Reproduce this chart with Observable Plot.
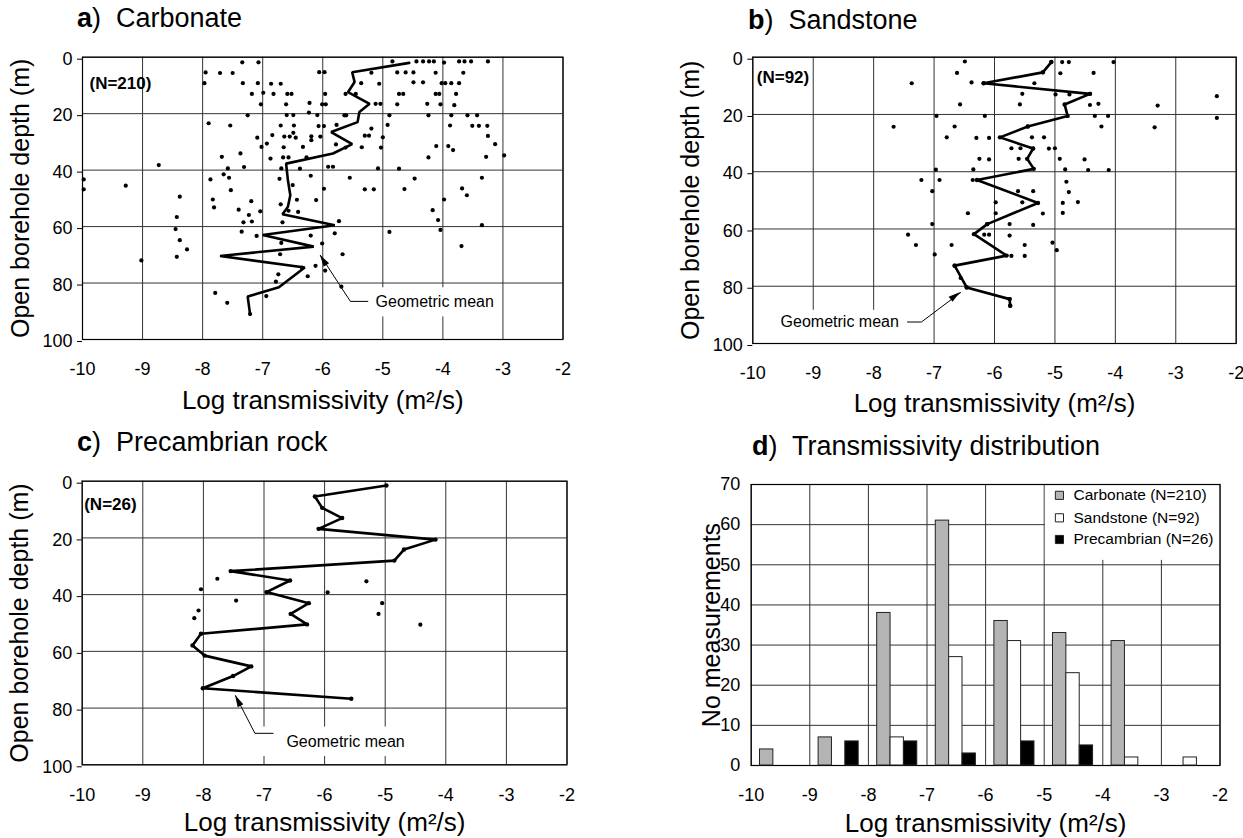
<!DOCTYPE html>
<html><head><meta charset="utf-8">
<script src="https://cdn.jsdelivr.net/npm/d3@7"></script>
<script src="https://cdn.jsdelivr.net/npm/@observablehq/plot@0.6"></script>
<style>
body{margin:0;background:#fff;font-family:"Liberation Sans",Arial,Helvetica,sans-serif;}
#page{position:relative;width:1243px;height:838px;overflow:hidden;background:#fff;}
.panel{position:absolute;}
.panel svg{max-width:none;display:block;}
.title{position:absolute;font-size:27px;line-height:27px;color:#000;white-space:pre;}
</style></head><body><div id="page"></div>
<script>
// ---------- data ----------
const xTicks = [-10, -9, -8, -7, -6, -5, -4, -3, -2];
const depthTicks = [0, 20, 40, 60, 80, 100];
const countTicks = [0, 10, 20, 30, 40, 50, 60, 70];
const xLabel = "Log transmissivity (m\u00B2/s)";
const depthLabel = "Open borehole depth (m)";
const countLabel = "No measurements";
const meanLabel = "Geometric mean";

// [log transmissivity, depth]
const carbonatePoints = [
[-7.34,1.8],[-7.07,1.8],[-7.95,5.4],[-7.71,5.6],[-7.50,5.6],[-6.06,5.3],[-5.97,5.3],
[-7.97,9.2],[-7.33,9.2],[-7.08,9.2],[-6.86,9.4],[-6.70,9.4],
[-7.18,13],[-6.99,12.6],[-6.82,13],[-6.59,13],[-6.52,13],[-5.96,13],[-5.62,13],
[-7.03,16.7],[-6.61,16.7],[-6.22,16.2],[-6.01,16.7],[-5.95,16.7],
[-5.36,9.2],[-5.19,5.5],[-5.45,13],[-5.12,16.5],
[-7.90,23.4],[-7.54,24.2],[-7.25,20.6],[-6.60,20.5],[-6.49,20.5],[-6.23,19.6],[-6.09,20.5],[-5.64,20.6],
[-6.70,24.2],[-6.48,24.2],[-6.07,24.4],[-5.98,24.4],[-5.77,24],
[-7.09,28.5],[-6.84,27.6],[-6.64,28.1],[-6.55,28.1],[-6.49,26.8],[-6.45,28.5],[-6.19,28],[-6.19,29.4],[-6.04,28.1],
[-5.19,25.3],[-5.30,27.8],[-5.23,27.8],
[-7.02,31.8],[-6.93,30.6],[-6.65,31.9],[-6.33,31.8],[-5.78,30.9],[-5.62,32],[-5.35,31.9],
[-7.68,35.3],[-7.37,34.1],[-6.87,35.9],[-6.66,35.5],[-6.57,35.5],[-6.27,35.5],
[-8.73,38.2],[-7.58,39.4],[-7.31,38.9],[-6.69,39.4],[-6.38,39.5],[-5.91,38.8],[-5.83,38.8],[-5.08,39.4],
[-9.98,43.3],[-9.98,46.8],[-9.28,45.5],[-7.87,43.3],[-7.65,41.5],[-7.56,42.7],[-7.53,47.1],[-6.72,43.1],[-6.50,45.3],[-6.20,42],[-5.98,46.6],[-5.55,42.7],[-5.30,46.8],[-5.15,46.8],
[-8.38,49.4],[-7.83,50.4],[-7.81,53.2],[-7.19,51],[-7.40,54],[-7.23,55.9],[-7.04,54.6],[-7.32,58.5],[-7.18,58.2],[-6.70,52.1],[-6.43,50.5],[-6.11,50.6],[-6.57,54.4],[-6.41,54.8],[-6.67,58.5],
[-8.43,56.6],[-8.45,60.9],[-8.38,64.8],[-8.26,68.1],[-8.43,70.7],[-9.02,72],
[-7.35,61.8],[-7.10,63.3],[-6.69,65.8],[-6.20,63.2],[-6.01,66],[-5.80,62.4],[-5.73,58.1],[-5.67,69.8],[-6.71,69.8],
[-6.35,74.5],[-6.25,77.6],[-6.12,73.9],[-5.96,75.6],[-6.74,76.9],[-6.78,79.5],[-6.94,84.6],[-7.79,83.5],[-7.59,87],[-7.21,91],[-5.69,81.3],
[-4.84,1.5],[-4.44,1.5],[-4.33,1.5],[-4.23,1.5],[-4.15,1.5],[-3.98,1.9],[-3.73,1.5],[-3.64,1.5],[-3.53,1.5],[-3.25,1.5],
[-4.76,5.4],[-4.62,5.4],[-4.49,5.4],[-4.12,5.5],[-3.66,5.5],
[-5.06,9.4],[-4.49,8.9],[-4.33,8.9],[-4.02,9.2],[-3.96,9.2],[-3.86,9.2],[-3.73,9.2],
[-4.73,13],[-4.66,13],[-4.12,13],[-4.06,13],[-3.78,13],
[-5.04,16.5],[-4.76,16.7],[-4.26,16.5],[-4.04,16.7],[-3.81,17],
[-5.61,20.6],[-4.89,20.6],[-4.24,20.6],[-3.86,20.6],[-3.59,20.6],[-3.43,20.6],
[-4.92,24],[-3.88,24.2],[-3.51,24.3],[-3.40,24.3],[-3.26,24.3],
[-5.00,28.4],[-3.25,27.9],
[-5.03,32],[-4.11,31.5],[-3.91,31.5],[-3.83,32.9],[-3.13,30.8],
[-4.24,35.5],[-3.28,35.3],[-2.98,34.8],
[-4.73,39.5],[-4.47,43],[-3.35,42.7],
[-4.64,46.7],[-3.68,46.5],[-3.60,48.9],
[-3.98,50.4],[-4.17,54.2],[-4.08,57.7],[-4.04,61.2],[-3.35,59.5],
[-4.89,61.9],[-3.69,66.9]
];
const carbonateMean = [
[-4.56,2],[-5.51,5.3],[-5.47,8.8],[-5.58,12.4],[-5.22,16.5],[-5.39,19.4],[-5.42,23],[-5.86,26.5],
[-5.51,30.8],[-5.83,34.1],[-6.61,37.7],[-6.58,43.6],[-6.54,48.9],[-6.58,53],[-6.67,55.6],[-5.80,59.5],
[-7.00,63],[-6.15,67.1],[-7.71,70.4],[-6.30,74.5],[-6.73,81.5],[-7.25,84.8],[-7.21,91]
];

const sandstonePoints = [
[-7.37,9.1],[-7.67,24.3],[-6.96,20.5],[-6.97,39.3],[-7.21,42.9],[-6.91,42.9],[-7.03,46.8],[-7.03,58.3],[-7.43,62],[-7.30,65.6],[-6.99,68.9],
[-6.49,1.5],[-5.06,1.7],[-4.88,1.7],[-4.77,1.7],[-4.03,1.7],
[-6.62,5.5],[-5.20,5.3],[-4.91,5.6],[-4.36,5.5],
[-6.38,8.8],[-6.18,9.1],[-5.34,9.1],
[-5.54,12.8],[-4.99,13],[-4.76,13],[-4.42,12.8],
[-6.57,16.5],[-5.58,16.5],[-4.42,16.7],[-4.28,16.3],[-3.30,16.9],
[-6.16,20.5],[-4.34,20.5],[-4.12,20.5],
[-6.66,24.2],[-5.45,24.2],[-4.23,24.2],[-3.35,24.5],
[-6.79,28],[-6.30,28.2],[-6.09,28.2],[-5.38,28],[-5.18,28],
[-5.72,31.8],[-5.57,31.8],[-5.37,31.9],[-5.10,31.9],[-5.00,31.8],
[-6.25,35.5],[-6.09,35.7],[-5.60,35.5],[-4.92,35.5],[-4.51,35.7],
[-6.35,39.2],[-4.83,39.2],[-4.45,39.4],[-4.11,39.4],
[-6.36,42.9],[-4.81,43.5],
[-5.61,46.8],[-5.36,46.8],[-4.77,47.1],
[-5.98,50.7],[-5.54,50.7],[-4.62,50.6],[-4.87,50.9],
[-6.44,54.5],[-5.98,54.5],[-5.20,54.6],[-4.87,54.4],
[-6.12,58.3],[-5.75,58.3],[-5.36,58.6],
[-6.17,62],[-6.09,62],[-5.75,62.3],
[-6.71,65.6],[-5.50,65.6],[-5.04,64.8],[-4.97,67.4],
[-5.72,69.4],[-5.50,69.4],
[-6.66,72.8],[-6.56,77.1],[-6.46,80.4],[-5.75,84.5],[-5.74,86.8],
[-2.32,13.6],[-2.32,21.2]
];
const sandstoneMean = [
[-5.06,1.7],[-5.20,5.3],[-6.18,9.1],[-4.42,12.8],[-4.84,16.5],[-4.79,20.5],[-5.45,24.2],[-5.91,28],
[-5.36,31.9],[-5.46,35.5],[-5.35,39],[-6.29,42.9],[-5.28,50.9],[-6.12,58.3],[-6.34,61.8],[-5.80,69.3],
[-6.66,72.8],[-6.46,80.4],[-5.75,84.5],[-5.74,86.8]
];

const precambrianPoints = [
[-7.77,34.4],[-8.04,38.1],[-7.46,42.1],[-8.08,45.6],[-8.15,48.3],[-5.95,39.2],[-5.31,35.3],[-5.05,43],[-5.11,46.8],[-4.42,50.6]
];
const precambrianMean = [
[-4.98,1.5],[-6.16,5.4],[-6.04,9.4],[-5.71,13],[-6.10,16.8],[-4.17,20.6],[-4.69,24.1],[-4.85,28],
[-7.55,31.7],[-6.57,35],[-6.96,39.1],[-6.26,43],[-6.56,46.8],[-6.29,50.5],[-8.04,53.8],[-8.18,57.9],
[-7.98,61.5],[-7.21,65.3],[-7.51,68.7],[-8.01,73],[-5.56,76.7]
];

// histogram: bins by lower edge of log transmissivity
const bins = [-10, -9, -8, -7, -6, -5, -4, -3];
const seriesNames = ["Carbonate", "Sandstone", "Precambrian"];
const carbonateCounts   = [4, 7, 38, 61, 36, 33, 31, 0];
const sandstoneCounts   = [0, 0, 7, 27, 31, 23, 2, 2];
const precambrianCounts = [0, 6, 6, 3, 6, 5, 0, 0];
const seriesFills = ["#b4b4b4", "#ffffff", "#000000"];

// ---------- helpers ----------
const FONT = "'Liberation Sans', Arial, Helvetica, sans-serif";
const NS = "http://www.w3.org/2000/svg";
const page = document.getElementById("page");

function place(svg, left, top) {
  const div = document.createElement("div");
  div.className = "panel";
  div.style.left = left + "px";
  div.style.top = top + "px";
  div.appendChild(svg);
  page.appendChild(div);
}
function title(letter, text, left, top) {
  const div = document.createElement("div");
  div.className = "title";
  div.style.left = left + "px";
  div.style.top = top + "px";
  const b = document.createElement("b");
  b.textContent = letter;
  div.appendChild(b);
  div.appendChild(document.createTextNode(")  " + text));
  page.appendChild(div);
}
function arrowHead(from, to) {
  return (index, scales) => {
    const x1 = scales.x(from[0]), y1 = scales.y(from[1]);
    const x2 = scales.x(to[0]), y2 = scales.y(to[1]);
    const a = Math.atan2(y2 - y1, x2 - x1);
    const L = 12, W = 3.2;
    const bx = x2 - L * Math.cos(a), by = y2 - L * Math.sin(a);
    const d = `M${x2},${y2}L${bx + W * Math.sin(a)},${by - W * Math.cos(a)}L${bx - W * Math.sin(a)},${by + W * Math.cos(a)}Z`;
    const p = document.createElementNS(NS, "path");
    p.setAttribute("d", d);
    p.setAttribute("fill", "black");
    return p;
  };
}

function depthPanel(o) {
  const {points, mean, meanDots, n, nPos, ann, left, top, width, height, frame, xLabelDy} = o;
  const svg = Plot.plot({
    width, height,
    marginLeft: frame[0] - left,
    marginRight: left + width - frame[1],
    marginTop: frame[2] - top,
    marginBottom: top + height - frame[3],
    style: {fontFamily: FONT, fontSize: "18px", background: "transparent", overflow: "visible"},
    x: {domain: [-10, -2]},
    y: {domain: [0, 100], reverse: true},
    marks: [
      Plot.ruleX(xTicks, {stroke: "#333", strokeWidth: 1}),
      Plot.ruleY(depthTicks, {stroke: "#333", strokeWidth: 1}),
      Plot.rect([ann.box], {x1: d => d[0], x2: d => d[1], y1: d => d[2], y2: d => d[3], fill: "white"}),
      Plot.frame({stroke: "black", strokeWidth: 1.2}),
      Plot.axisX({ticks: xTicks, tickSize: 0, tickPadding: 23, fontSize: 18, label: null, tickFormat: d => String(d)}),
      Plot.axisY({ticks: depthTicks, tickSize: 5, tickPadding: 5, fontSize: 18, label: null, dy: 2, tickFormat: d => String(d)}),
      Plot.text([depthLabel], {text: d => d, frameAnchor: "left", rotate: -90, dx: -62, fontSize: 25, textAnchor: "middle", lineAnchor: "middle"}),
      Plot.text([xLabel], {text: d => d, frameAnchor: "bottom", dy: xLabelDy, fontSize: 26, textAnchor: "middle", lineAnchor: "middle"}),
      Plot.text([`(N=${n})`], {text: d => d, frameAnchor: "top-left", dx: nPos[0], dy: nPos[1], fontSize: 17, fontWeight: "bold", textAnchor: "start", lineAnchor: "middle"}),
      Plot.dot(points, {x: d => d[0], y: d => d[1], r: 2.1, fill: "black", stroke: "none"}),
      Plot.line(mean, {x: d => d[0], y: d => d[1], stroke: "black", strokeWidth: 2.6, strokeLinejoin: "miter"}),
      meanDots ? Plot.dot(mean, {x: d => d[0], y: d => d[1], r: 2.2, fill: "black", stroke: "none"}) : null,
      Plot.line(ann.path, {x: d => d[0], y: d => d[1], stroke: "black", strokeWidth: 1}),
      arrowHead(ann.path[ann.path.length - 2], ann.path[ann.path.length - 1]),
      Plot.text([meanLabel], {text: d => d, x: ann.text[0], y: ann.text[1], textAnchor: "start", lineAnchor: "middle", fontSize: 16})
    ].filter(Boolean)
  });
  place(svg, left, top);
}

// ---------- panels a, b, c ----------
title("a", "Carbonate", 77, 5);
depthPanel({
  points: carbonatePoints, mean: carbonateMean, meanDots: false,
  n: d3.sum(carbonateCounts), nPos: [7, 26],
  ann: {text: [-5.12, 86.5], path: [[-5.25, 86.5], [-5.54, 86.5], [-6.04, 70.2]], box: [-5.15, -3.05, 81.7, 92]},
  left: 0, top: 0, width: 621, height: 425, frame: [82, 562.5, 56.7, 339], xLabelDy: 61
});

title("b", "Sandstone", 748, 7);
depthPanel({
  points: sandstonePoints, mean: sandstoneMean, meanDots: true,
  n: d3.sum(sandstoneCounts), nPos: [4, 20],
  ann: {text: [-9.54, 92.5], path: [[-7.44, 92.5], [-7.21, 92.5], [-6.56, 82.2]], box: [-9.6, -7.47, 88.4, 100]},
  left: 621, top: 0, width: 622, height: 425, frame: [752.3, 1235.7, 56.7, 343], xLabelDy: 60
});

title("c", "Precambrian rock", 77, 429);
depthPanel({
  points: precambrianPoints, mean: precambrianMean, meanDots: true,
  n: d3.sum(precambrianCounts), nPos: [2, 23],
  ann: {text: [-6.63, 92.0], path: [[-6.85, 88.9], [-7.15, 88.9], [-7.47, 75.6]], box: [-7.1, -4.55, 86.7, 97.1]},
  left: 0, top: 425, width: 621, height: 413, frame: [81.7, 566.5, 480.7, 764.3], xLabelDy: 58
});

// ---------- panel d ----------
title("d", "Transmissivity distribution", 752, 433);
const countsBySeries = [carbonateCounts, sandstoneCounts, precambrianCounts];
const bars = bins.flatMap((b, i) => seriesNames.map((s, j) => ({bin: b, j, series: s, count: countsBySeries[j][i]})))
  .filter(d => d.count > 0);
const groupStart = 0.15, barW = 0.228;
const legendItems = seriesNames.map((s, j) => ({label: `${s} (N=${d3.sum(countsBySeries[j])})`, fill: seriesFills[j], j}));
const legendRows = [67.3, 61.7, 56.3];
{
  const left = 621, top = 425, width = 622, height = 413, frame = [750.7, 1219.5, 484, 765];
  const svg = Plot.plot({
    width, height,
    marginLeft: frame[0] - left,
    marginRight: left + width - frame[1],
    marginTop: frame[2] - top,
    marginBottom: top + height - frame[3],
    style: {fontFamily: FONT, fontSize: "18px", background: "transparent", overflow: "visible"},
    x: {domain: [-10, -2]},
    y: {domain: [0, 70]},
    marks: [
      Plot.ruleX(xTicks, {stroke: "#333", strokeWidth: 1}),
      Plot.ruleY(countTicks, {stroke: "#333", strokeWidth: 1}),
      Plot.rect([0], {x1: -4.98, x2: -2, y1: 51.1, y2: 70, fill: "white"}),
      Plot.frame({stroke: "black", strokeWidth: 1.2}),
      Plot.rect(bars, {
        x1: d => d.bin + groupStart + d.j * barW,
        x2: d => d.bin + groupStart + (d.j + 1) * barW,
        y1: 0, y2: d => d.count,
        fill: d => seriesFills[d.j], stroke: "#222", strokeWidth: 1
      }),
      Plot.axisX({ticks: xTicks, tickSize: 0, tickPadding: 23, fontSize: 18, label: null, tickFormat: d => String(d)}),
      Plot.axisY({ticks: countTicks, tickSize: 0, tickPadding: 11, fontSize: 18, label: null, tickFormat: d => String(d)}),
      Plot.text([countLabel], {text: d => d, frameAnchor: "left", rotate: -90, dx: -39, fontSize: 25, textAnchor: "middle", lineAnchor: "middle"}),
      Plot.text([xLabel], {text: d => d, frameAnchor: "bottom", dy: 58, fontSize: 26, textAnchor: "middle", lineAnchor: "middle"}),
      Plot.dot(legendItems, {x: -4.74, y: d => legendRows[d.j], symbol: "square", r: 4.6, fill: d => d.fill, stroke: "#222", strokeWidth: 1}),
      Plot.text(legendItems, {x: -4.5, y: d => legendRows[d.j], text: d => d.label, textAnchor: "start", lineAnchor: "middle", fontSize: 15.5})
    ]
  });
  place(svg, left, top);
}
</script>
</body></html>
